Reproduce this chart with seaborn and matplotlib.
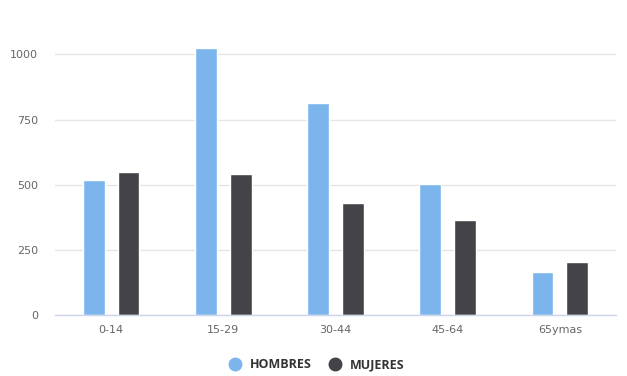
import pandas as pd
import numpy as np
import matplotlib.pyplot as plt
import seaborn as sns
from matplotlib.lines import Line2D

# ==========================================
# Data
# ==========================================
categorias = ['0-14', '15-29', '30-44', '45-64', '65ymas']
hombres = [519, 1025, 812, 503, 167]
mujeres = [548, 540, 429, 364, 204]
series = ['HOMBRES', 'MUJERES']

df = pd.DataFrame({
    'grupo': categorias * 2,
    'valor': hombres + mujeres,
    'sexo': [series[0]] * len(categorias) + [series[1]] * len(categorias),
})

# ==========================================
# Plot
# ==========================================
sns.set_theme(style='white')
plt.rcParams['font.family'] = ['DejaVu Sans']

colors = {'HOMBRES': '#7cb5ec', 'MUJERES': '#434348'}

fig = plt.figure(figsize=(6.27, 3.76), dpi=100)
ax = fig.add_axes([0.0877, 0.1614, 0.8948, 0.7636])

sns.barplot(data=df, x='grupo', y='valor', hue='sexo', palette=colors,
            width=0.62, gap=0.37, saturation=1, ax=ax, legend=False)

ax.set_ylim(0, 1100)
ax.set_xlim(-0.5, 4.5)
ax.set_yticks([0, 250, 500, 750, 1000])
ax.grid(True, axis='y', color='#e6e6e6', linewidth=1)
ax.set_axisbelow(True)
for s in ['top', 'right', 'left']:
    ax.spines[s].set_visible(False)
ax.spines['bottom'].set_color('#ccd6eb')
ax.spines['bottom'].set_linewidth(1)
ax.tick_params(axis='y', length=0, pad=12, labelsize=8, labelcolor='#666666')
ax.tick_params(axis='x', length=0, pad=7, labelsize=8, labelcolor='#666666')
ax.set_xlabel('')
ax.set_ylabel('')

handles = [Line2D([0], [0], marker='o', linestyle='', markersize=9,
                  markerfacecolor=colors[s], markeredgecolor=colors[s]) for s in series]
leg = fig.legend(handles, series, loc='center', bbox_to_anchor=(0.5, 0.03),
                 ncol=2, frameon=False, handletextpad=0.2, columnspacing=0.9,
                 prop={'family': 'Open Sans', 'size': 9, 'weight': 'bold'})
for t in leg.get_texts():
    t.set_color('#333333')

plt.savefig('out.png', dpi=100)
